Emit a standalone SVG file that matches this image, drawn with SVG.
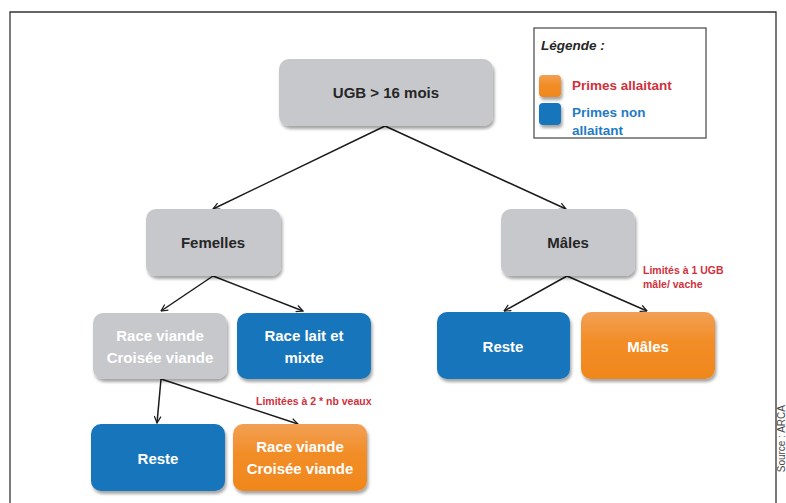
<svg xmlns="http://www.w3.org/2000/svg" width="786" height="503" viewBox="0 0 786 503">
<defs>
<style>
.t{font-family:"Liberation Sans",Arial,sans-serif;font-weight:bold;text-anchor:middle}
.n{font-size:15px}
.dark{fill:#262626}
.w{fill:#ffffff}
.red{fill:#d0313c;font-family:"Liberation Sans",Arial,sans-serif;font-weight:bold}
.gray{fill:#c6c8cb}
.blue{fill:#1874bb}
.orange{fill:url(#og)}
.c{stroke:#1a1a1a;stroke-width:1.5;fill:none;marker-end:url(#ah)}
</style>
<linearGradient id="og" x1="0" y1="0" x2="0" y2="1">
<stop offset="0" stop-color="#f2a055"/>
<stop offset="0.45" stop-color="#f28d27"/>
<stop offset="1" stop-color="#f0871c"/>
</linearGradient>
<filter id="sh" x="-10%" y="-10%" width="125%" height="130%">
<feDropShadow dx="1.5" dy="3" stdDeviation="1.8" flood-color="#000" flood-opacity="0.35"/>
</filter>
<marker id="ah" viewBox="0 0 12 12" refX="11" refY="6" markerWidth="8" markerHeight="8" markerUnits="userSpaceOnUse" orient="auto">
<path d="M1,1 L11,6 L1,11" fill="none" stroke="#1a1a1a" stroke-width="1.8"/>
</marker>
</defs>
<rect x="0" y="0" width="786" height="503" fill="#ffffff"/>
<path d="M10,520 L10,12 L776,12 L776,520" fill="none" stroke="#333" stroke-width="1.3"/>

<g id="legend">
<rect x="534" y="28" width="172" height="110" fill="#ffffff" stroke="#444" stroke-width="1.2"/>
<text x="541" y="50" style="font-family:'Liberation Sans',Arial,sans-serif;font-weight:bold;font-style:italic;font-size:13.5px" fill="#262626">Légende :</text>
<rect x="539" y="75" width="22" height="22" rx="4" class="orange" filter="url(#sh)"/>
<rect x="539" y="103" width="22" height="22" rx="4" class="blue" filter="url(#sh)"/>
<text x="572" y="90" class="red" style="font-size:13.5px">Primes allaitant</text>
<text x="572" y="117" style="font-family:'Liberation Sans',Arial,sans-serif;font-weight:bold;font-size:13.5px" fill="#1f7bc4">Primes non</text>
<text x="572" y="135" style="font-family:'Liberation Sans',Arial,sans-serif;font-weight:bold;font-size:13.5px" fill="#1f7bc4">allaitant</text>
</g>

<g id="connectors">
<line x1="385" y1="126" x2="213" y2="209" class="c"/>
<line x1="385" y1="126" x2="566" y2="209" class="c"/>
<line x1="213" y1="276" x2="161" y2="311" class="c"/>
<line x1="213" y1="276" x2="303" y2="311" class="c"/>
<line x1="567" y1="276" x2="504" y2="311" class="c"/>
<line x1="567" y1="276" x2="647" y2="311" class="c"/>
<line x1="161" y1="379" x2="157" y2="423" class="c"/>
<line x1="161" y1="379" x2="298" y2="424" class="c"/>
</g>

<g id="n-ugb">
<rect x="279" y="59" width="214" height="67" rx="10" class="gray" filter="url(#sh)"/>
<text x="386" y="98" class="t n dark">UGB &gt; 16 mois</text>
</g>
<g id="n-femelles">
<rect x="146" y="209" width="135" height="67" rx="10" class="gray" filter="url(#sh)"/>
<text x="213" y="248" class="t n dark">Femelles</text>
</g>
<g id="n-males-top">
<rect x="501" y="209" width="134" height="67" rx="10" class="gray" filter="url(#sh)"/>
<text x="568" y="248" class="t n dark">Mâles</text>
</g>
<g id="n-race-viande-gray">
<rect x="93" y="313" width="134" height="66" rx="10" class="gray" filter="url(#sh)"/>
<text x="160" y="341" class="t n w">Race viande</text>
<text x="160" y="363" class="t n w">Croisée viande</text>
</g>
<g id="n-race-lait">
<rect x="237" y="313" width="134" height="66" rx="10" class="blue" filter="url(#sh)"/>
<text x="304" y="341" class="t n w">Race lait et</text>
<text x="304" y="363" class="t n w">mixte</text>
</g>
<g id="n-reste-left">
<rect x="91" y="424" width="134" height="67" rx="10" class="blue" filter="url(#sh)"/>
<text x="158" y="464" class="t n w">Reste</text>
</g>
<g id="n-race-viande-orange">
<rect x="233" y="424" width="134" height="67" rx="10" class="orange" filter="url(#sh)"/>
<text x="300" y="452" class="t n w">Race viande</text>
<text x="300" y="474" class="t n w">Croisée viande</text>
</g>
<g id="n-reste-right">
<rect x="437" y="312" width="133" height="67" rx="10" class="blue" filter="url(#sh)"/>
<text x="503" y="352" class="t n w">Reste</text>
</g>
<g id="n-males-orange">
<rect x="581" y="312" width="134" height="67" rx="10" class="orange" filter="url(#sh)"/>
<text x="648" y="352" class="t n w">Mâles</text>
</g>

<text x="256" y="405" class="red" style="font-size:10.5px">Limitées à 2 * nb veaux</text>
<text x="643" y="274" class="red" style="font-size:10.5px">Limités à 1 UGB</text>
<text x="643" y="288" class="red" style="font-size:10.5px">mâle/ vache</text>

<text transform="translate(785,405) rotate(-90)" style="font-family:'Liberation Sans',Arial,sans-serif;font-size:10px;text-anchor:end" fill="#444">Source : ARCA</text>
</svg>
